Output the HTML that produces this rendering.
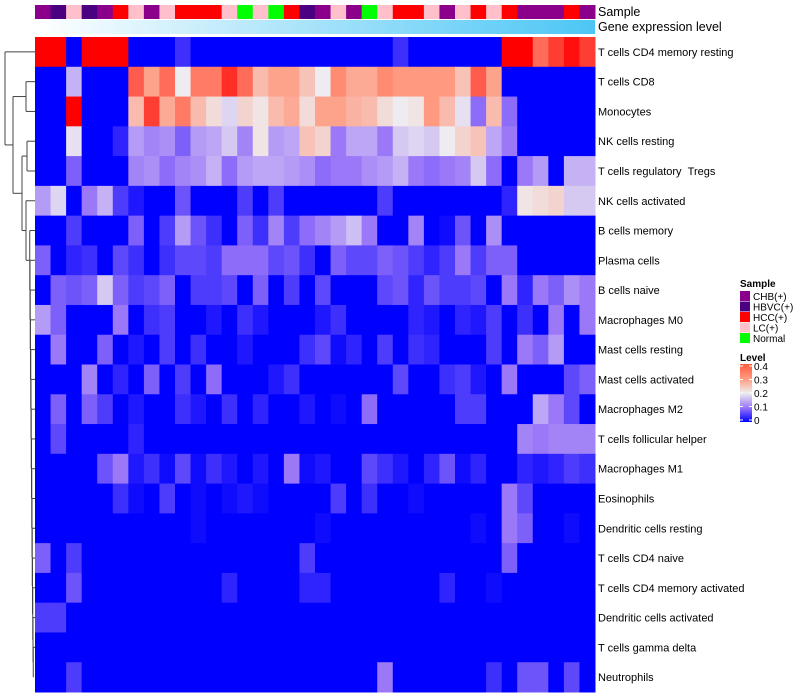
<!DOCTYPE html>
<html><head><meta charset="utf-8"><style>
body{margin:0;background:#fff;}
svg{display:block;font-family:"Liberation Sans",sans-serif;}
</style></head><body>
<svg id="chart" width="800" height="700">
<defs>
<linearGradient id="geneGrad" x1="0" x2="1" y1="0" y2="0"><stop offset="0" stop-color="#ffffff"/><stop offset="1" stop-color="#4cc6f5"/></linearGradient>
<linearGradient id="levelGrad" x1="0" x2="0" y1="1" y2="0"><stop offset="0" stop-color="#0000ff"/><stop offset="0.25" stop-color="#9b78f8"/><stop offset="0.5" stop-color="#eeeeee"/><stop offset="0.75" stop-color="#ff9a80"/><stop offset="1" stop-color="#ff5a3c"/></linearGradient>
</defs>
<g id="dendro" stroke="#444" stroke-width="1" fill="none"></g>
<g id="cells"></g>
<g id="anno"></g>
<g id="labels" font-size="11" fill="#000"></g>
<text x="598" y="16" font-size="12.5">Sample</text>
<text x="598" y="31" font-size="12.5">Gene expression level</text>
<g id="legend" font-size="10"></g>
</svg>
<script>
const rowNames=["T cells CD4 memory resting","T cells CD8","Monocytes","NK cells resting","T cells regulatory \u00a0Tregs","NK cells activated","B cells memory","Plasma cells","B cells naive","Macrophages M0","Mast cells resting","Mast cells activated","Macrophages M2","T cells follicular helper","Macrophages M1","Eosinophils","Dendritic cells resting","T cells CD4 naive","T cells CD4 memory activated","Dendritic cells activated","T cells gamma delta","Neutrophils"];
const sampleTypes=["CHB","HBVC","LC","HBVC","CHB","HCC","LC","CHB","LC","HCC","HCC","HCC","LC","Normal","LC","Normal","HCC","HBVC","CHB","LC","CHB","Normal","LC","HCC","HCC","LC","CHB","LC","HCC","LC","HCC","CHB","CHB","CHB","HCC","CHB"];
const legendLevels=["0.4","0.3","0.2","0.1","0"];
const r1=[.4,.4,0,.4,.4,.4,0,0,0,.04,0,0,0,0,0,0,0,0,0,0,0,0,0,.04,0,0,0,0,0,0,.4,.4,.33,.36,.39,.36];
const r2=[0,0,.15,0,0,0,.34,.29,.33,.2,.32,.32,.37,.33,.26,.29,.29,.25,.2,.31,.28,.28,.31,.3,.3,.3,.3,.25,.34,.29,0,0,0,0,0,0];
const r3=[0,0,.4,0,0,0,.26,.36,.28,.32,.26,.22,.18,.23,.21,.26,.28,.22,.29,.29,.27,.26,.22,.2,.21,.3,.26,.19,.09,.26,.09,0,0,0,0,0];
const r4=[0,0,.19,0,0,.03,.13,.11,.12,.08,.13,.14,.17,.11,.21,.13,.14,.25,.23,.1,.14,.14,.1,.17,.18,.17,.2,.23,.25,.14,.1,0,0,0,0,0];
const r5=[0,0,.08,0,0,0,.11,.12,.09,.11,.12,.15,.09,.13,.14,.14,.13,.12,.09,.1,.1,.12,.13,.15,.1,.09,.1,.11,.17,.09,0,.1,.13,0,.15,.15];
const r6=[.13,.18,0,.1,.15,.05,.02,0,0,.07,0,0,0,.05,0,.05,0,0,0,0,0,0,.05,0,0,0,0,0,0,0,.03,.21,.22,.23,.17,.17];
const r7=[0,0,.05,0,0,0,.08,0,.05,.13,.07,.04,0,.08,.04,.11,.05,.09,.11,.13,.16,.1,0,0,.11,0,.01,.07,0,.12,0,0,0,0,0,0];
const r8=[.08,0,.03,.04,0,.06,.04,0,.04,.06,.06,.05,.09,.09,.09,.06,.07,.04,0,.08,.06,.06,.08,.07,.05,.03,.05,.1,.05,.08,.08,0,0,0,0,0];
const r9=[0,.08,.07,.08,.17,.08,.05,.06,.08,0,.05,.05,.06,0,.08,0,.05,0,.06,0,0,0,.06,.07,.03,.07,.05,.05,.06,0,.1,.03,.1,.08,.12,.1];
const r10=[.13,.08,0,0,0,.1,0,.04,.05,0,0,.02,0,.04,.02,0,0,0,.02,.04,0,0,0,0,.03,.02,0,.03,.02,.05,0,.04,0,.1,0,.1];
const r11=[0,.1,0,0,.08,0,.02,0,.05,0,.04,0,0,.02,0,0,0,.04,.06,.01,.03,0,.05,0,.04,.03,0,0,0,.05,0,.1,.08,.13,0,0];
const r12=[0,0,0,.11,0,.03,0,.08,0,.05,0,.09,0,0,0,.02,.04,0,0,0,0,0,0,.06,0,0,.04,.05,.02,0,.1,0,0,0,.06,.08];
const r13=[0,.08,0,.08,.05,0,.02,0,0,.04,.02,0,.04,0,.03,0,0,.02,0,.01,0,.09,0,0,0,0,0,.05,.05,0,0,0,.14,.1,.06,0];
const r14=[0,.06,0,0,0,0,.03,0,0,0,0,0,0,0,0,0,0,0,0,0,0,0,0,0,0,0,0,0,0,0,0,.11,.1,.11,.11,.11];
const r15=[0,0,0,0,.07,.1,.02,.04,.01,.06,.01,.04,.02,0,.02,0,.1,.01,.02,0,0,.06,.04,.02,0,.03,.07,.01,.03,0,0,.03,.02,.03,.05,.04];
const r16=[0,0,0,0,0,.04,.01,0,.05,0,.01,0,.01,.02,.01,0,0,0,0,.05,0,.04,0,0,.01,0,0,0,0,0,.1,.06,0,0,0,0];
const r17=[0,0,0,0,0,0,0,0,0,0,.01,0,0,0,0,0,0,0,.01,0,0,0,0,0,0,0,0,0,.01,0,.1,.08,0,0,.01,0];
const r18=[.08,0,.05,0,0,0,0,0,0,0,0,0,0,0,0,0,0,.05,0,0,0,0,0,0,0,0,0,0,0,0,.08,0,0,0,0,0];
const r19=[0,0,.07,0,0,0,0,0,0,0,0,0,.03,0,0,0,0,.03,.03,0,0,0,0,0,0,0,.03,0,0,.01,0,0,0,0,0,0];
const r20=[.05,.05,0,0,0,0,0,0,0,0,0,0,0,0,0,0,0,0,0,0,0,0,0,0,0,0,0,0,0,0,0,0,0,0,0,0];
const r21=[0,0,0,0,0,0,0,0,0,0,0,0,0,0,0,0,0,0,0,0,0,0,0,0,0,0,0,0,0,0,0,0,0,0,0,0];
const r22=[0,0,.05,0,0,0,0,0,0,0,0,0,0,0,0,0,0,0,0,0,0,0,.1,0,0,0,0,0,0,.04,0,.07,.07,0,.06,0];
const values=[r1,r2,r3,r4,r5,r6,r7,r8,r9,r10,r11,r12,r13,r14,r15,r16,r17,r18,r19,r20,r21,r22];

const NS="http://www.w3.org/2000/svg";
const X0=35,X1=595,Y0=37,Y1=692;
const nCol=sampleTypes.length,nRow=rowNames.length;
const cw=(X1-X0)/nCol,rh=(Y1-Y0)/nRow;
const xPos=i=>X0+i*cw, yPos=j=>Y0+j*rh, yMid=j=>Y0+(j+0.5)*rh;
const sampleColor={CHB:"#8b008b",HBVC:"#4b0082",HCC:"#ff0000",LC:"#ffc0cb",Normal:"#00ff00"};
const stops=[[0,[0,0,255]],[0.1,[155,120,248]],[0.2,[238,236,240]],[0.3,[255,154,128]],[0.4,[255,0,0]]];
function col(v){v=Math.max(0,Math.min(0.4,v));for(let k=0;k<stops.length-1;k++){const[a,ca]=stops[k],[b,cb]=stops[k+1];if(v<=b){const t=(v-a)/(b-a);return "rgb("+ca.map((c,i)=>Math.round(c+(cb[i]-c)*t)).join(",")+")";}}return "rgb(255,0,0)";}
function mk(tag,attrs,parent){const e=document.createElementNS(NS,tag);for(const k in attrs)e.setAttribute(k,attrs[k]);parent.appendChild(e);return e;}
const cells=document.getElementById("cells");
values.forEach((row,j)=>row.forEach((v,i)=>{
 const r=mk("rect",{x:xPos(i),y:yPos(j),width:cw+0.5,height:rh+0.5,fill:col(v)},cells);
 
 
}));
const anno=document.getElementById("anno");
sampleTypes.forEach((s,i)=>{
 const r=mk("rect",{x:xPos(i),y:5,width:cw+0.5,height:14,fill:sampleColor[s]},anno);
 
 
});
const g=mk("rect",{x:X0,y:20,width:X1-X0,height:14,fill:"url(#geneGrad)"},anno);


const labels=document.getElementById("labels");
rowNames.forEach((n,j)=>{
 const t=mk("text",{x:598,y:yMid(j)+4},labels);t.textContent=n;
 
 
});
const d=document.getElementById("dendro");
function ln(x1,y1,x2,y2){mk("line",{x1,y1,x2,y2},d);}
function merge(x,ya,xa,yb,xb){ln(x,ya,xa,ya);ln(x,yb,xb,yb);ln(x,ya,x,yb);return (ya+yb)/2;}
let yE=yMid(21),xE=33.5;
for(let j=20;j>=6;j--){const nx=33.5-(21-j)*0.25;yE=merge(nx,yMid(j),35,yE,xE);xE=nx;}
const yD=merge(26,yMid(5),35,yE,xE);
const yB=merge(27,yMid(3),35,yMid(4),35);
const yC=merge(22,yB,27,yD,26);
const yA=merge(26,yMid(1),35,yMid(2),35);
const yAC=merge(13,yA,26,yC,22);
merge(5,yMid(0),35,yAC,13);
const L=document.getElementById("legend");
let t=mk("text",{x:740,y:287,"font-weight":"bold"},L);t.textContent="Sample";

const legItems=[["CHB","CHB(+)"],["HBVC","HBVC(+)"],["HCC","HCC(+)"],["LC","LC(+)"],["Normal","Normal"]];
legItems.forEach((it,k)=>{
 const y=291+k*10.5;
 const r=mk("rect",{x:740,y:y,width:10,height:10,fill:sampleColor[it[0]]},L);
 
 const tx=mk("text",{x:753,y:y+9},L);tx.textContent=it[1];
 
});
t=mk("text",{x:740,y:361,"font-weight":"bold"},L);t.textContent="Level";

const lb=mk("rect",{x:740,y:364,width:12,height:58,fill:"url(#levelGrad)"},L);

legendLevels.forEach((s,k)=>{
 const y=366+k*13.5;
 mk("line",{x1:740,y1:y,x2:743,y2:y,stroke:"#fff"},L);mk("line",{x1:749,y1:y,x2:752,y2:y,stroke:"#fff"},L);
 const tx=mk("text",{x:754,y:y+4},L);tx.textContent=s;
 
});
</script>
</body></html>
